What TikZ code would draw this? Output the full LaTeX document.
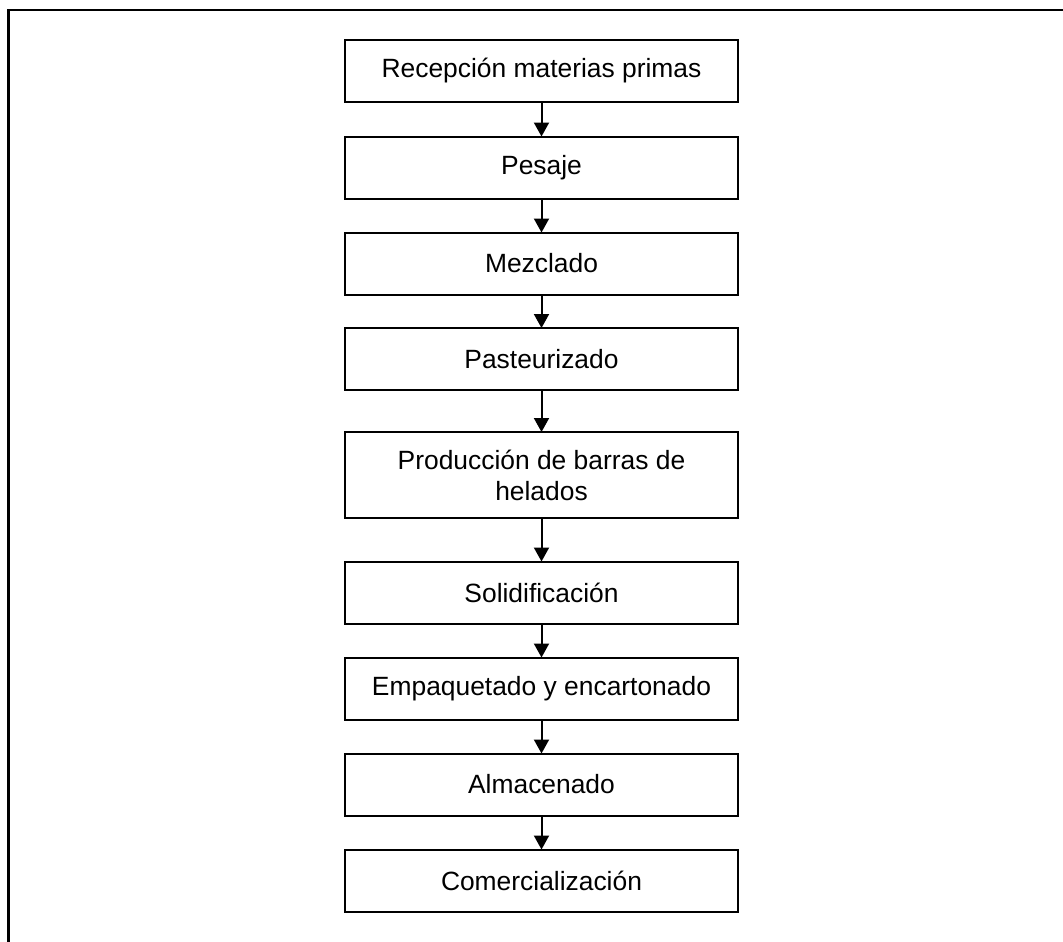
\documentclass[tikz,border=0pt]{standalone}
\usepackage{fontspec}
\setmainfont{Liberation Sans}
\usetikzlibrary{arrows.meta}
\begin{document}
\begin{tikzpicture}[x=1pt,y=-1pt,
  stepbox/.style={draw=black, line width=2pt, fill=white, minimum width=393pt, minimum height=62pt, inner sep=0pt, align=center, font=\fontsize{26.4}{31}\selectfont},
  flow/.style={line width=2pt, -{Triangle[width=15pt,length=14pt]}, shorten >=-1pt}]
\useasboundingbox (0,0) rectangle (1063,942);
\fill[white] (0,0) rectangle (1063,942);
\coordinate (tl) at (8.5,10);
\coordinate (tr) at (1063,10);
\coordinate (bl) at (8.5,942);
\draw[line width=2.7pt] (tr) -- (tl) -- (bl);
\node[stepbox] (b1) at (541.5,71) {Recepción materias primas};
\node[stepbox] (b2) at (541.5,167.5) {Pesaje};
\node[stepbox] (b3) at (541.5,263.5) {Mezclado};
\node[stepbox] (b4) at (541.5,359) {Pasteurizado};
\node[stepbox, minimum height=86pt] (b5) at (541.5,475) {Producción de barras de\\helados};
\node[stepbox] (b6) at (541.5,592.5) {Solidificación};
\node[stepbox] (b7) at (541.5,688.5) {Empaquetado y encartonado};
\node[stepbox] (b8) at (541.5,784.5) {Almacenado};
\node[stepbox] (b9) at (541.5,880.5) {Comercialización};
\foreach \a/\b in {b1/b2,b2/b3,b3/b4,b4/b5,b5/b6,b6/b7,b7/b8,b8/b9}
  \draw[flow] (\a.south) -- (\b.north);
\end{tikzpicture}
\end{document}
